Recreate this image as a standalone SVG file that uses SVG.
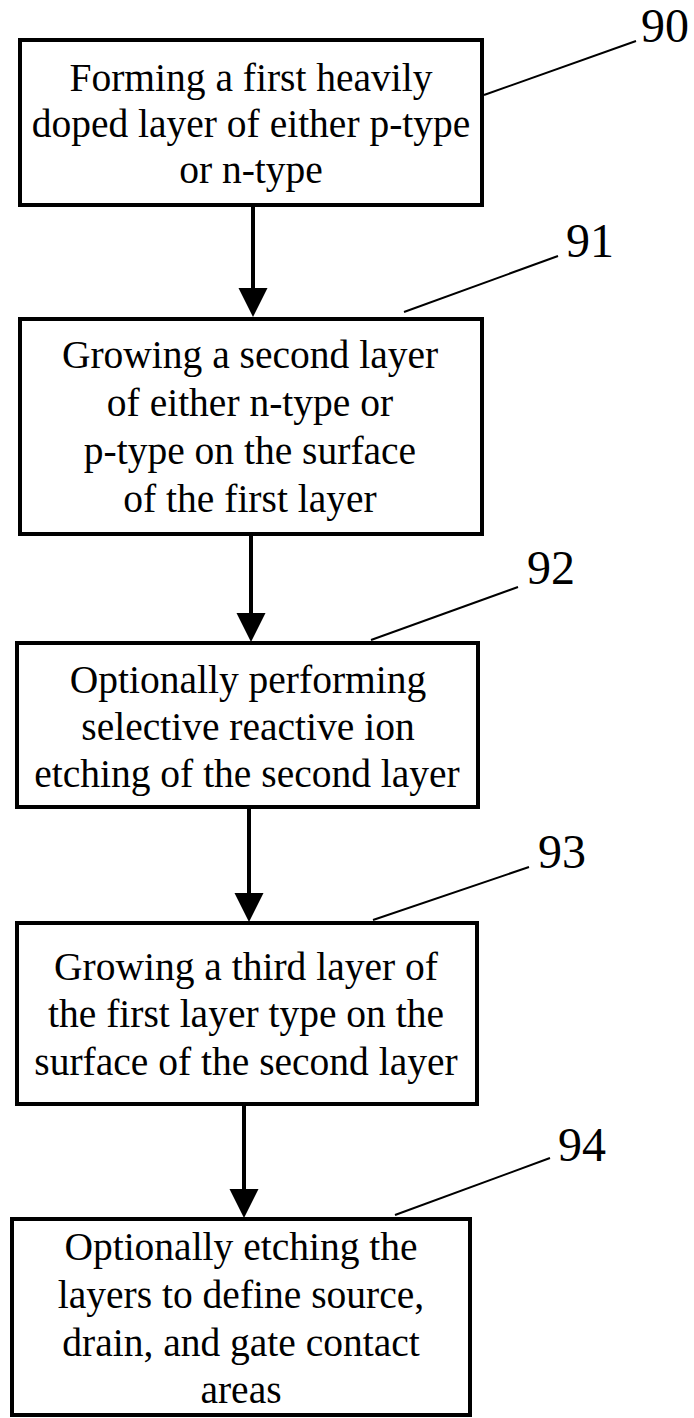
<svg xmlns="http://www.w3.org/2000/svg" width="694" height="1418" viewBox="0 0 694 1418">
<defs>
<style>
.box{fill:#fff;stroke:#000;stroke-width:4}
.t{font-family:"Liberation Serif","Times New Roman",serif;font-size:39.5px;fill:#000;text-anchor:middle}
.lbl{font-family:"Liberation Serif","Times New Roman",serif;font-size:48px;fill:#000}
.shaft{stroke:#000;stroke-width:4;fill:none}
.lead{stroke:#000;stroke-width:2;fill:none}
.head{fill:#000}
</style>
</defs>
<rect width="694" height="1418" fill="#fff"/>
<g id="connectors">
<line class="shaft" x1="253" y1="207" x2="253" y2="292"/>
<polygon class="head" points="238.5,288 267.5,288 253,317"/>
<line class="shaft" x1="251" y1="536" x2="251" y2="617"/>
<polygon class="head" points="236.5,613 265.5,613 251,642"/>
<line class="shaft" x1="249" y1="809" x2="249" y2="897"/>
<polygon class="head" points="234.5,893 263.5,893 249,922"/>
<line class="shaft" x1="244" y1="1106" x2="244" y2="1193"/>
<polygon class="head" points="229.5,1189 258.5,1189 244,1218"/>
<line class="lead" x1="484" y1="95" x2="636" y2="41"/>
<line class="lead" x1="404" y1="312" x2="558" y2="256"/>
<line class="lead" x1="371" y1="640" x2="518" y2="587"/>
<line class="lead" x1="373" y1="920" x2="529" y2="867"/>
<line class="lead" x1="395" y1="1215" x2="550" y2="1158"/>
</g>
<g id="node90">
<rect class="box" x="20" y="40" width="462" height="165"/>
<text class="t" x="251" y="91">Forming a first heavily</text>
<text class="t" x="251" y="137">doped layer of either p-type</text>
<text class="t" x="251" y="183">or n-type</text>
<text class="lbl" x="641" y="42">90</text>
</g>
<g id="node91">
<rect class="box" x="20" y="319" width="462" height="215"/>
<text class="t" x="250" y="368">Growing a second layer</text>
<text class="t" x="250" y="416">of either n-type or</text>
<text class="t" x="250" y="464">p-type on the surface</text>
<text class="t" x="250" y="512">of the first layer</text>
<text class="lbl" x="566" y="257">91</text>
</g>
<g id="node92">
<rect class="box" x="17" y="643" width="461" height="164"/>
<text class="t" x="248" y="693">Optionally performing</text>
<text class="t" x="248" y="740">selective reactive ion</text>
<text class="t" x="247" y="787">etching of the second layer</text>
<text class="lbl" x="527" y="584">92</text>
</g>
<g id="node93">
<rect class="box" x="17" y="923" width="460" height="181"/>
<text class="t" x="246" y="980">Growing a third layer of</text>
<text class="t" x="246" y="1027">the first layer type on the</text>
<text class="t" x="246" y="1075">surface of the second layer</text>
<text class="lbl" x="538" y="868">93</text>
</g>
<g id="node94">
<rect class="box" x="12" y="1219" width="458" height="196"/>
<text class="t" x="241" y="1260">Optionally etching the</text>
<text class="t" x="241" y="1308">layers to define source,</text>
<text class="t" x="241" y="1356">drain, and gate contact</text>
<text class="t" x="241" y="1403">areas</text>
<text class="lbl" x="558" y="1161">94</text>
</g>
</svg>
